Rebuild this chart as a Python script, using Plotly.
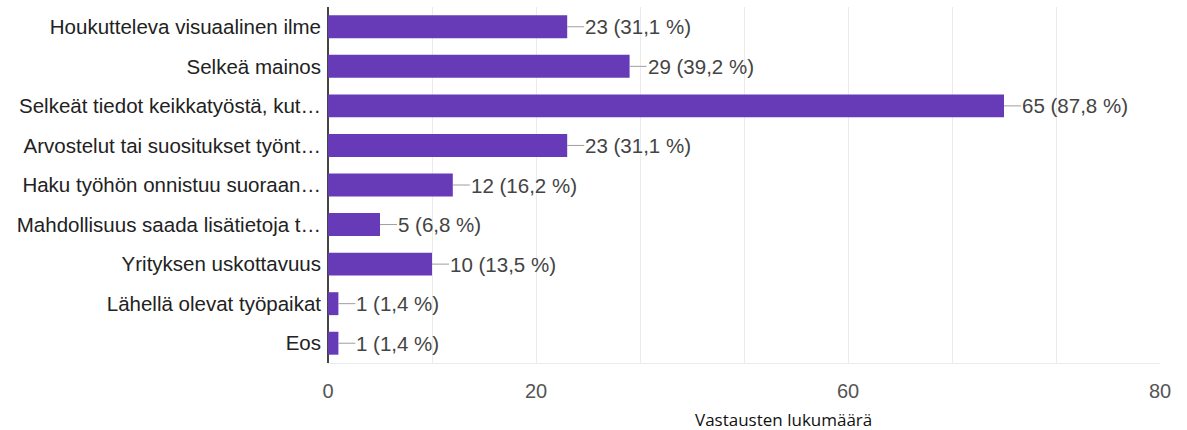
import plotly.graph_objects as go

# Survey answers and their counts
categories = [
    "Houkutteleva visuaalinen ilme",
    "Selkeä mainos",
    "Selkeät tiedot keikkatyöstä, kut…",
    "Arvostelut tai suositukset työnt…",
    "Haku työhön onnistuu suoraan…",
    "Mahdollisuus saada lisätietoja t…",
    "Yrityksen uskottavuus",
    "Lähellä olevat työpaikat",
    "Eos",
]
counts = [23, 29, 65, 23, 12, 5, 10, 1, 1]
percents = ["31,1", "39,2", "87,8", "31,1", "16,2", "6,8", "13,5", "1,4", "1,4"]

# Axis tick positions and the labels printed under them
tick_values = [0, 20, 50, 80]
tick_text = ["0", "20", "60", "80"]
axis_title = "Vastausten lukumäärä"

BAR = "#673AB7"
FONT = "Liberation Sans, Arial"
W, H = 1187, 430
L, R, T, B = 328, 27, 7, 67

fig = go.Figure()
fig.add_trace(go.Bar(
    x=counts, y=categories, orientation="h",
    marker=dict(color=BAR, line=dict(width=0)),
    width=0.58, hoverinfo="skip",
))

# value labels joined to each bar by a short leader line
for cat, n, p in zip(categories, counts, percents):
    fig.add_annotation(
        x=n, y=cat, xref="x", yref="y",
        text=f"{n} ({p} %)", showarrow=True, arrowhead=0,
        arrowwidth=1, arrowcolor="#9e9e9e",
        ax=17, ay=0, axref="pixel", ayref="pixel",
        xanchor="left", yanchor="middle", borderpad=0, standoff=0,
        font=dict(family=FONT, size=20.5, color="#444444"),
    )

fig.add_annotation(
    x=(783 - L) / (W - L - R), y=-(419 - (H - B)) / (H - T - B),
    xref="paper", yref="paper", text=axis_title, showarrow=False,
    xanchor="center", yanchor="middle",
    font=dict(family="Open Sans", size=17, color="#111111"),
)

fig.update_xaxes(
    range=[0, 80], tickmode="array", tickvals=tick_values, ticktext=tick_text,
    showgrid=True, gridcolor="#ebebeb", gridwidth=1,
    minor=dict(dtick=10, tick0=0, showgrid=True, gridcolor="#ebebeb", gridwidth=1),
    zeroline=True, zerolinecolor="#444444", zerolinewidth=2,
    showline=True, linecolor="#ebebeb", linewidth=1,
    ticks="", ticklabelstandoff=10,
    tickfont=dict(family=FONT, size=20, color="#555555"),
    fixedrange=True,
)
fig.update_yaxes(
    autorange="reversed", showgrid=False, zeroline=False, ticks="",
    ticklabelstandoff=6,
    tickfont=dict(family=FONT, size=20.5, color="#222222"),
    fixedrange=True,
)
fig.update_layout(
    width=W, height=H, margin=dict(l=L, r=R, t=T, b=B, autoexpand=False),
    paper_bgcolor="white", plot_bgcolor="white", showlegend=False,
    bargap=0.42,
)
fig.write_html("out.html")
